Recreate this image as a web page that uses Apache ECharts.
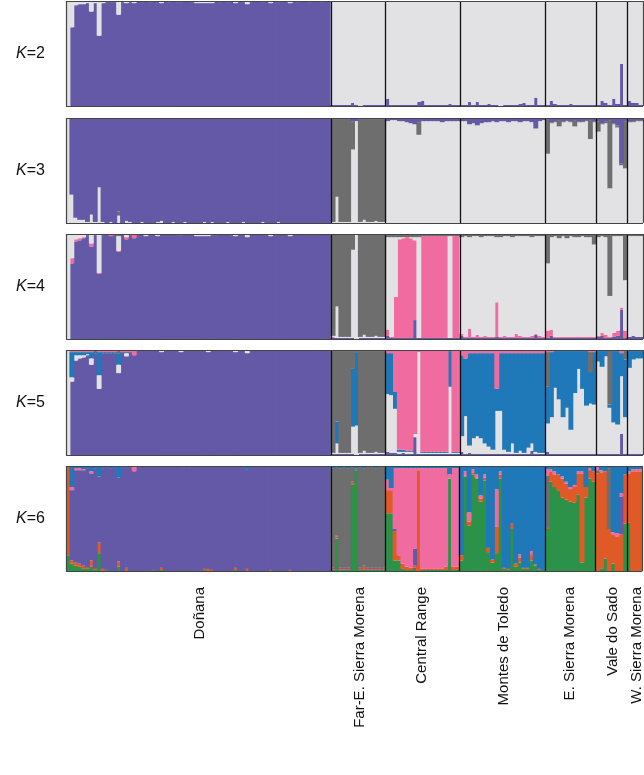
<!DOCTYPE html>
<html><head><meta charset="utf-8">
<script src="https://cdn.jsdelivr.net/npm/echarts/dist/echarts.min.js"></script>
<style>html,body{margin:0;padding:0;background:#fff}#c{width:644px;height:775px}</style>
</head><body><div id="c"></div><script>
const pops = ['Doñana','Far-E. Sierra Morena','Central Range','Montes de Toledo','E. Sierra Morena','Vale do Sado','W. Sierra Morena'];
const popSizes = [68,14,19,22,13,8,4];
const kLabels = ['2','3','4','5','6'];

// ---- K=2 (bottom -> top: purple, light)
const k2_purple = [
0,75,96,97,97,98,90,98,67,98, 99,99,99,87,99,98,99,98,100,99, 100,99,100,99,98,100,99,100,99,99,
100,100,99,98,98,98,98,98,100,99, 100,99,100,98,100,99,97,99,100,100, 99,100,98,100,99,100,100,98,100,99,
100,100,99,100,100,99,100,100,
1,1,1,1,1,3,1,0,1,1,1,1,1,1,
7,1,1,1,1,1,1,1,4,5,1,1,1,1,1,1,2,1,1,
1,1,4,1,4,1,1,2,1,1,0,1,1,1,1,2,3,1,1,8,1,1,
1,5,2,1,1,1,2,1,1,1,1,1,1,
1,5,3,1,7,2,40,1,
5,3,3,1];
const k2_light = [
100,25,4,3,3,2,10,2,33,2, 1,1,1,13,1,2,1,2,0,1, 0,1,0,1,2,0,1,0,1,1,
0,0,1,2,2,2,2,2,0,1, 0,1,0,2,0,1,3,1,0,0, 1,0,2,0,1,0,0,2,0,1,
0,0,1,0,0,1,0,0,
99,99,99,99,99,97,99,100,99,99,99,99,99,99,
93,99,99,99,99,99,99,99,96,95,99,99,99,99,99,99,98,99,99,
99,99,96,99,96,99,99,98,99,99,100,99,99,99,99,98,97,99,99,92,99,99,
99,95,98,99,99,99,98,99,99,99,99,99,99,
99,95,97,99,93,98,60,99,
95,97,97,99];

// ---- K=3 (light, dark, purple)
const k3_light = [
100,27,5,3,3,1,8,1,34,1, 0,1,0,7,0,2,1,0,0,1, 0,0,0,1,2,0,0,1,0,0,
1,0,0,0,0,1,0,1,0,0, 0,1,0,0,0,1,0,0,0,0, 1,0,0,0,1,0,0,0,0,0,
0,0,0,0,0,0,0,0,
1,25,1,1,1,70,97,1,3,1,1,2,1,1,
97,98,98,97,97,96,95,94,84,97,97,97,97,97,96,97,97,97,97,
97,97,94,95,93,95,96,96,97,96,97,97,96,97,97,96,97,97,96,90,97,98,
66,95,96,92,96,97,96,92,96,96,97,80,96,
87,94,95,33,94,91,55,52,
96,96,97,97];
const k3_dark = [
0,0,0,0,0,0,0,0,0,0, 0,0,0,4,0,0,0,0,0,0, 0,0,0,0,0,0,0,0,0,0,
0,0,0,0,0,0,0,0,0,0, 0,0,0,0,0,0,0,0,0,0, 0,0,0,0,0,0,0,0,0,0,
0,0,0,0,0,0,0,0,
98,74,98,98,98,27,0,98,96,98,98,97,98,98,
0,0,0,0,0,0,0,0,12,0,0,0,0,0,0,0,0,0,0,
0,0,0,0,0,0,0,0,0,0,0,0,0,0,0,0,0,0,0,0,0,0,
33,1,1,6,1,1,1,6,1,1,1,18,1,
10,1,2,65,1,2,2,45,
1,1,1,1];
const k3_purple = [
0,73,95,97,97,99,92,99,66,99, 100,99,100,89,100,98,99,100,100,99, 100,100,100,99,98,100,100,99,100,100,
99,100,100,100,100,99,100,99,100,100, 100,99,100,100,100,99,100,100,100,100, 99,100,100,100,99,100,100,100,100,100,
100,100,100,100,100,100,100,100,
1,1,1,1,1,3,3,1,1,1,1,1,1,1,
3,2,2,3,3,4,5,6,4,3,3,3,3,3,4,3,3,3,3,
3,3,6,5,7,5,4,4,3,4,3,3,4,3,3,4,3,3,4,10,3,2,
1,4,3,2,3,2,3,2,3,3,2,2,3,
3,5,3,2,5,7,43,3,
3,3,2,2];

// ---- K=4 (purple, pink, light, dark)
const k4_purple = [
0,72,93,94,96,99,88,99,62,99, 100,98,99,83,100,95,99,96,100,100, 98,100,100,98,100,100,100,100,99,99,
100,100,100,98,98,98,98,99,99,100, 100,100,99,98,100,100,97,100,100,100, 100,100,98,100,100,100,100,98,100,100,
100,100,100,100,100,100,100,100,
1,1,1,1,1,1,0,1,1,1,1,1,1,1,
3,1,1,1,1,1,1,18,1,1,1,1,1,1,1,1,1,1,1,
3,1,1,1,1,1,1,1,1,2,1,1,1,1,1,1,1,1,1,4,1,1,
1,3,1,1,1,1,1,1,1,1,1,1,1,
2,3,1,1,2,3,28,1,
2,3,2,2];
const k4_pink = [
0,5,2,2,1,0,3,0,1,0, 0,1,1,1,0,2,0,4,0,0, 0,0,0,0,0,0,0,0,1,0,
0,0,0,0,0,0,0,0,1,0, 0,0,0,0,0,0,0,0,0,0, 0,0,0,0,0,0,0,0,0,0,
0,0,0,0,0,0,0,0,
1,0,0,0,0,0,0,0,0,0,0,0,0,0,
6,1,39,94,95,96,95,76,0,97,97,97,97,97,97,97,0,97,97,
2,1,9,1,3,1,2,1,1,33,1,2,1,1,4,2,1,1,2,1,2,1,
7,6,1,1,1,1,1,1,1,1,1,1,1,
1,3,3,1,4,5,2,7,
0,0,0,0];
const k4_light = [
100,23,5,4,3,1,9,1,37,1, 0,1,0,14,0,3,1,0,0,0, 2,0,0,2,0,0,0,0,0,1,
0,0,0,2,2,2,2,1,0,0, 0,0,1,2,0,0,3,0,0,0, 0,0,2,0,0,0,0,2,0,0,
0,0,0,0,0,0,0,0,
1,30,1,1,1,84,100,1,3,1,1,2,1,1,
88,95,57,2,1,0,1,3,96,0,0,0,0,0,0,0,97,0,0,
92,96,87,96,94,95,95,96,96,62,95,95,96,95,93,95,96,96,94,93,95,96,
64,88,96,94,96,94,96,95,95,96,95,95,88,
94,92,93,39,92,90,68,48,
96,95,96,96];
const k4_dark = [
0,0,0,0,0,0,0,0,0,0, 0,0,0,2,0,0,0,0,0,0, 0,0,0,0,0,0,0,0,0,0,
0,0,0,0,0,0,0,0,0,0, 0,0,0,0,0,0,0,0,0,0, 0,0,0,0,0,0,0,0,0,0,
0,0,0,0,0,0,0,0,
97,69,98,98,98,15,0,98,96,98,98,97,98,98,
3,3,3,3,3,3,3,3,3,2,2,2,2,2,2,2,2,2,2,
3,2,3,2,2,3,2,2,2,3,3,2,2,3,2,2,2,2,3,2,2,2,
28,3,2,4,2,4,2,3,3,2,3,3,10,
3,2,3,59,2,2,2,44,
2,2,2,2];

// ---- K=5 (purple, light, blue, dark, pink)
const k5_purple = [
0,70,90,92,93,95,86,97,63,97, 97,97,97,78,98,94,98,95,100,100, 100,100,100,100,98,100,100,100,100,98,
100,100,100,100,100,100,98,100,100,100, 100,100,100,98,100,100,97,100,100,100, 100,100,100,100,100,100,100,100,100,100,
100,100,100,100,100,100,100,100,
1,1,1,1,1,1,0,1,1,1,1,1,1,1,
3,2,2,1,2,1,1,17,1,1,1,1,1,1,1,1,1,1,1,
3,1,2,1,1,1,1,1,1,1,1,1,1,1,1,1,1,1,4,1,1,1,
3,1,1,1,1,1,1,1,1,1,1,1,1,
1,1,1,1,1,1,20,1,
1,1,1,1];
const k5_light = [
100,4,5,3,2,1,6,0,13,0, 0,0,0,8,0,3,0,0,0,0, 0,0,0,0,2,0,0,0,0,2,
0,0,0,0,0,0,2,0,0,0, 0,0,0,2,0,0,3,0,0,0, 0,0,0,0,0,0,0,0,0,0,
0,0,0,0,0,0,0,0,
1,10,1,1,1,26,28,1,3,1,1,2,1,1,
55,55,42,2,1,2,2,3,97,1,1,1,1,1,1,1,64,1,1,
15,36,7,15,17,15,10,7,4,41,41,4,2,10,1,3,1,6,7,2,1,1,
27,35,63,52,35,44,23,58,81,62,46,48,47,
88,83,93,44,30,28,55,35,
82,90,91,91];
const k5_blue = [
0,24,3,3,3,2,6,2,22,1, 1,1,1,11,0,1,0,0,0,0, 0,0,0,0,0,0,0,0,0,0,
0,0,0,0,0,0,0,0,0,0, 0,0,0,0,0,0,0,0,0,0, 0,0,0,0,0,0,0,0,0,0,
0,0,0,0,0,0,0,0,
0,21,0,0,0,55,70,0,0,0,0,0,0,0,
39,40,16,2,2,1,1,0,0,1,1,1,1,1,1,1,34,1,1,
77,55,88,81,79,81,86,89,92,21,55,92,94,86,95,93,95,90,86,94,95,95,
35,62,35,46,63,54,75,40,17,36,52,30,50,
10,15,5,3,68,70,22,55,
16,8,7,7];
const k5_dark = [
0,0,0,0,0,0,0,0,0,0, 0,0,0,2,0,0,0,0,0,0, 0,0,0,0,0,0,0,0,0,0,
0,0,0,0,0,0,0,0,0,0, 0,0,0,0,0,0,0,0,0,0, 0,0,0,0,0,0,0,0,0,0,
0,0,0,0,0,0,0,0,
97,67,97,97,97,17,1,97,95,97,97,96,97,97,
0,0,0,0,0,0,0,0,0,0,0,0,0,0,0,0,0,0,0,
0,0,0,0,0,0,0,0,0,0,0,0,0,0,0,0,0,0,0,0,0,0,
33,0,0,0,0,0,0,0,0,0,0,19,0,
0,0,0,52,0,0,0,8,
0,0,0,0];
const k5_pink = [
0,2,2,2,2,2,2,1,2,2, 2,2,2,1,2,2,2,5,0,0, 0,0,0,0,0,0,0,0,0,0,
0,0,0,0,0,0,0,0,0,0, 0,0,0,0,0,0,0,0,0,0, 0,0,0,0,0,0,0,0,0,0,
0,0,0,0,0,0,0,0,
1,1,1,1,1,1,1,1,1,1,1,1,1,1,
3,3,40,95,95,96,96,80,2,97,97,97,97,97,97,97,1,97,97,
5,8,3,3,3,3,3,3,3,37,3,3,3,3,3,3,3,3,3,3,3,3,
2,2,1,1,1,1,1,1,1,1,1,2,2,
1,1,1,0,1,1,3,1,
1,1,1,1];

// ---- K=6 (green, orange, purple, dark, pink, blue)
const k6_green = [
15,7,5,4,2,2,4,1,17,0, 1,0,0,4,0,0,0,0,0,0, 0,0,1,0,1,0,0,0,0,0,
0,0,0,0,0,1,0,0,0,0, 0,0,0,1,0,0,0,0,0,0, 0,0,0,0,0,0,0,0,0,0,
0,0,0,0,0,0,0,0,
1,31,1,1,1,82,96,1,1,1,1,1,1,1,
55,55,10,10,2,1,1,3,0,1,1,1,1,1,1,1,88,1,1,
10,90,43,92,88,66,86,18,8,17,88,2,1,40,4,8,2,2,10,5,1,1,
40,85,80,77,70,68,66,65,73,8,70,88,85,
0,2,12,0,7,0,0,45,
46,0,0,0];
const k6_orange = [
85,3,3,3,3,1,6,1,10,2, 0,0,0,5,0,3,0,0,0,0, 0,0,0,0,2,0,0,0,0,0,
0,0,0,0,0,1,2,1,0,0, 0,0,0,2,0,0,2,0,0,0, 0,0,1,0,0,0,0,1,0,0,
0,0,0,0,0,0,0,0,
1,2,1,1,1,2,0,1,3,1,1,1,1,1,
22,22,28,5,5,3,2,2,96,1,1,1,1,1,1,3,0,3,3,
5,1,4,2,1,3,3,4,3,25,4,1,1,5,3,5,1,1,5,1,1,0,
1,10,12,15,18,15,12,15,20,85,10,8,10,
93,92,83,40,28,33,35,47,
47,95,95,95];
const k6_purple = [
0,67,88,89,91,95,83,96,63,96, 98,98,99,80,99,96,99,95,99,100, 100,100,99,100,97,100,100,100,100,99,
99,99,100,100,100,98,98,99,100,100, 100,100,100,97,100,100,95,100,100,100, 100,100,99,100,100,100,100,99,100,100,
100,100,100,100,100,100,100,100,
1,1,1,1,1,1,1,1,1,1,1,1,1,1,
0,0,2,0,0,0,0,16,0,0,0,0,0,0,0,0,0,0,0,
0,0,0,0,0,0,0,0,0,0,0,0,0,0,0,0,0,0,1,0,0,0,
0,0,0,0,0,0,0,0,0,0,0,0,0,
0,0,0,0,0,0,36,0,
0,0,0,0];
const k6_dark = [
0,0,0,0,0,0,0,0,0,0, 0,0,0,0,0,0,0,0,0,0, 0,0,0,0,0,0,0,0,0,0,
0,0,0,0,0,0,0,0,0,0, 0,0,0,0,0,0,0,0,0,0, 0,0,0,0,0,0,0,0,0,0,
0,0,0,0,0,0,0,0,
95,65,95,96,95,14,1,96,93,96,96,95,96,96,
0,0,0,0,0,0,0,0,0,0,0,0,0,0,0,0,0,0,0,
0,0,0,0,0,0,0,0,0,0,0,0,0,0,0,0,0,0,0,0,0,0,
50,0,0,0,0,0,0,0,0,0,0,0,0,
3,0,0,58,0,0,0,0,
0,0,0,0];
const k6_pink = [
0,3,2,2,1,0,2,0,0,0, 0,0,0,0,0,1,0,5,0,0, 0,0,0,0,0,0,0,0,0,0,
0,0,0,0,0,0,0,0,0,0, 0,0,0,0,0,0,0,0,0,0, 0,0,0,0,0,0,0,0,0,0,
0,0,0,0,0,0,0,0,
0,0,0,0,0,0,0,0,0,0,0,0,0,0,
10,2,58,83,91,94,95,77,2,96,96,96,96,96,96,94,4,94,94,
0,4,9,3,3,3,3,0,0,36,3,0,0,0,0,3,0,0,3,0,0,0,
6,2,3,0,2,2,2,2,2,2,0,2,0,
3,2,0,0,2,3,3,0,
2,2,2,2];
const k6_blue = [
0,20,2,2,3,2,5,2,10,2, 1,2,1,11,1,0,1,0,1,0, 0,0,0,0,0,0,0,0,0,1,
1,1,0,0,0,0,0,0,0,0, 0,0,0,0,0,0,3,0,0,0, 0,0,0,0,0,0,0,0,0,0,
0,0,0,0,0,0,0,0,
2,1,2,1,2,1,2,1,2,1,1,2,1,1,
13,21,2,2,2,2,2,2,2,2,2,2,2,2,2,2,8,2,2,
85,5,44,3,8,28,8,78,89,22,5,97,98,55,93,84,97,97,81,94,98,99,
3,3,5,8,10,15,20,18,5,5,20,2,5,
1,4,5,2,63,64,26,8,
5,3,3,3];

const COLORS = {purple:'#6459a6', light:'#e2e2e5', dark:'#6e6e6e', pink:'#f06ca0', blue:'#1f78b8', green:'#2c9249', orange:'#e05a27'};
const FONT = '"Liberation Sans", Arial, Helvetica, sans-serif';

const panels = [
  [['purple',k2_purple],['light',k2_light]],
  [['light',k3_light],['dark',k3_dark],['purple',k3_purple]],
  [['purple',k4_purple],['pink',k4_pink],['light',k4_light],['dark',k4_dark]],
  [['purple',k5_purple],['light',k5_light],['blue',k5_blue],['dark',k5_dark],['pink',k5_pink]],
  [['green',k6_green],['orange',k6_orange],['purple',k6_purple],['dark',k6_dark],['pink',k6_pink],['blue',k6_blue]]
];
const tops = [1,118,234,350,466];
const H = 105;

const N = popSizes.reduce((a,b)=>a+b,0);
const ids = Array.from({length:N},(_,i)=>'ind'+(i+1));
const bounds = []; let acc = 0;
popSizes.forEach((s,i)=>{acc+=s; if(i<popSizes.length-1) bounds.push(acc);});
const labelIdx = {}; let st = 0;
popSizes.forEach((s,i)=>{labelIdx[st+Math.floor(s/2)] = pops[i]; st+=s;});

const grid=[], xAxis=[], yAxis=[], series=[];
panels.forEach((layers,p)=>{
  grid.push({left:66, right:1, top:tops[p], height:H, show:false});
  const last = p===panels.length-1;
  xAxis.push({type:'category', gridIndex:p, data:ids, boundaryGap:true,
    axisLine:{show:false}, axisTick:{show:false}, splitLine:{show:false},
    axisLabel: last ? {show:true, interval:(i)=>labelIdx[i]!==undefined,
      formatter:(v,i)=>labelIdx[i]||'', rotate:90, margin:16, fontSize:15, color:'#111', fontFamily:FONT}
      : {show:false}});
  xAxis.push({type:'value', gridIndex:p, min:0, max:N, show:false});
  yAxis.push({type:'value', gridIndex:p, min:0, max:1,
    axisLine:{show:false}, axisTick:{show:false}, axisLabel:{show:false}, splitLine:{show:false},
    name:'{i|K}='+kLabels[p], nameLocation:'middle', nameRotate:0, nameGap:21,
    nameTextStyle:{fontSize:16, color:'#111', fontFamily:FONT, rich:{i:{fontStyle:'italic', fontSize:16, color:'#111', fontFamily:FONT}}}});
  const totals = ids.map((_,i)=>layers.reduce((s,l)=>s+l[1][i],0));
  layers.forEach(([c,arr])=>{
    series.push({type:'bar', name:c, xAxisIndex:p*2, yAxisIndex:p, stack:'K'+p,
      barWidth:4.9, animation:false, silent:true, clip:true,
      itemStyle:{color:COLORS[c], borderWidth:0},
      data: arr.map((v,i)=> totals[i] ? v/totals[i] : 0)});
  });
  const lines = bounds.map(b=>({xAxis:b, lineStyle:{color:'#111', width:1.3, type:'solid'}}))
    .concat([{xAxis:0},{xAxis:N},{yAxis:0},{yAxis:1}].map(d=>Object.assign(d,{lineStyle:{color:'#444', width:1.2, type:'solid'}})));
  series.push({type:'scatter', xAxisIndex:p*2+1, yAxisIndex:p, data:[[0,0]], symbolSize:0, silent:true, animation:false, z:5,
    markLine:{symbol:['none','none'], silent:true, animation:false, label:{show:false}, data:lines}});
});

const chart = echarts.init(document.getElementById('c'));
chart.setOption({animation:false, backgroundColor:'#fff', grid, xAxis, yAxis, series});
</script></body></html>
